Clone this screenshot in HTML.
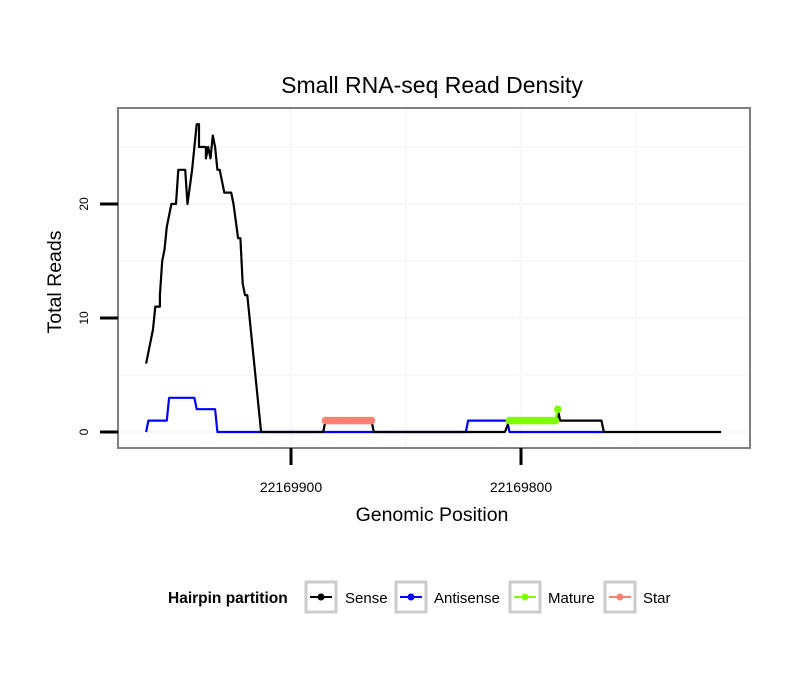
<!DOCTYPE html>
<html><head><meta charset="utf-8"><style>
body{margin:0;background:#fff;font-family:"Liberation Sans",sans-serif}
svg{display:block}
</style></head><body>
<svg id="chart" width="810" height="690" font-family="Liberation Sans, sans-serif">
<text x="432" y="93" font-size="23" text-anchor="middle">Small RNA-seq Read Density</text>
<rect x="118" y="108" width="632" height="340" fill="#fff"/>
<g id="grid"></g>
<g id="series"></g>
<rect x="118" y="108" width="632" height="340" fill="none" stroke="#808080" stroke-width="2"/>
<g id="axes"></g>
<text x="432" y="521" font-size="19.5" text-anchor="middle">Genomic Position</text>
<text transform="translate(61,282) rotate(-90)" font-size="19.5" text-anchor="middle">Total Reads</text>
<g>
<text x="168" y="603" font-size="15.5" font-weight="bold">Hairpin partition</text>
<g>
<rect x="306" y="582" width="30" height="30" fill="#fff" stroke="#ccc" stroke-width="3"/>
<line x1="310" y1="597" x2="332" y2="597" stroke="#000" stroke-width="2"/><circle cx="321" cy="597" r="3.5" fill="#000"/>
<text x="345" y="603" font-size="15">Sense</text></g>
<g>
<rect x="396" y="582" width="30" height="30" fill="#fff" stroke="#ccc" stroke-width="3"/>
<line x1="400" y1="597" x2="422" y2="597" stroke="#00f" stroke-width="2"/><circle cx="411" cy="597" r="3.5" fill="#00f"/>
<text x="434" y="603" font-size="15">Antisense</text></g>
<g>
<rect x="510" y="582" width="30" height="30" fill="#fff" stroke="#ccc" stroke-width="3"/>
<line x1="514" y1="597" x2="536" y2="597" stroke="#7fff00" stroke-width="2"/><circle cx="525" cy="597" r="3.5" fill="#7fff00"/>
<text x="548" y="603" font-size="15">Mature</text></g>
<g>
<rect x="605" y="582" width="30" height="30" fill="#fff" stroke="#ccc" stroke-width="3"/>
<line x1="609" y1="597" x2="631" y2="597" stroke="#fa8072" stroke-width="2"/><circle cx="620" cy="597" r="3.5" fill="#fa8072"/>
<text x="643" y="603" font-size="15">Star</text></g>
</g>
</svg>
<script>
const BASE = 22169000;
const senseX = [963,960,959,957,957,956,955,954,952,950,949,946,945,943,942,941,940,940,937,937,936,935,934,933,932,931,930,929,926,925,923,922,921,920,919,917,914,913,886,885,865,864,807,805,784,784,783,765,764,713];
const senseY = [6,9,11,11,12,15,16,18,20,20,23,23,20,23,25,27,27,25,25,24,25,24,26,25,23,23,22,21,21,20,17,17,13,12,12,8,2,0,0,1,1,0,0,1,1,2,1,1,0,0];
const antiX = [963,962,954,953,942,941,933,932,824,823,806,805,764];
const antiY = [0,1,1,3,3,2,2,0,0,1,1,0,0];
const matureX = [805,804,803,802,801,800,799,798,797,796,795,794,793,792,791,790,789,788,787,786,785,784];
const matureY = [1,1,1,1,1,1,1,1,1,1,1,1,1,1,1,1,1,1,1,1,1,2];
const starX = [885,884,883,882,881,880,879,878,877,876,875,874,873,872,871,870,869,868,867,866,865];
const starY = [1,1,1,1,1,1,1,1,1,1,1,1,1,1,1,1,1,1,1,1,1];
const yTicks = [0,10,20];
const xTicks = [22169900,22169800];
const yMinor = [5,15,25];
const xMinor = [22169850,22169750];

const NS='http://www.w3.org/2000/svg';
function sx(p){return 291 + (22169900 - p)*2.3;}
function sy(v){return 432 - v*11.4;}
function mk(tag,attrs,parent){const e=document.createElementNS(NS,tag);for(const k in attrs)e.setAttribute(k,attrs[k]);parent.appendChild(e);return e;}
const grid=document.getElementById('grid'),series=document.getElementById('series'),axes=document.getElementById('axes');
yMinor.concat(yTicks).forEach(v=>{const l=mk('line',{x1:118,x2:750,y1:sy(v),y2:sy(v),stroke:'#f8f8f8','stroke-width':yTicks.includes(v)?3:2},grid);

});
xMinor.concat(xTicks).forEach(p=>{const l=mk('line',{x1:sx(p),x2:sx(p),y1:108,y2:448,stroke:'#f8f8f8','stroke-width':xTicks.includes(p)?3:2},grid);

});
function line(xs,ys,color,name){const pts=xs.map((x,i)=>sx(BASE+x)+','+sy(ys[i])).join(' ');
const l=mk('polyline',{points:pts,fill:'none',stroke:color,'stroke-width':2.2,'stroke-linejoin':'round'},series);

}
function pts(xs,ys,color,name){const g=mk('g',{},series);


line(xs,ys,color,name+'-line');
xs.forEach((x,i)=>{const c=mk('circle',{cx:sx(BASE+x),cy:sy(ys[i]),r:3.8,fill:color},g);

});}
line(antiX,antiY,'#0000ff','antisense-line');
line(senseX,senseY,'#000000','sense-line');
pts(starX,starY,'#fa8072','star-series');
pts(matureX,matureY,'#7fff00','mature-series');
yTicks.forEach(v=>{const t=mk('line',{x1:100,x2:118,y1:sy(v),y2:sy(v),stroke:'#000','stroke-width':3},axes);


const tx=mk('text',{transform:`translate(88,${sy(v)}) rotate(-90)`,'font-size':12,'text-anchor':'middle'},axes);tx.textContent=v;

});
xTicks.forEach(p=>{const t=mk('line',{x1:sx(p),x2:sx(p),y1:448,y2:465,stroke:'#000','stroke-width':3},axes);


const tx=mk('text',{x:sx(p),y:492,'font-size':14,'text-anchor':'middle'},axes);tx.textContent=p;

});
</script>
</body></html>
